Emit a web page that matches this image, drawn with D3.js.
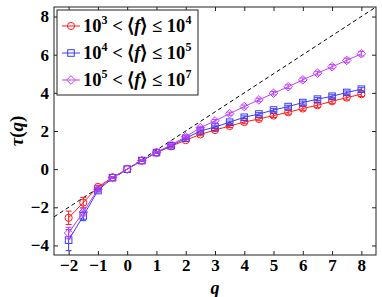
<!DOCTYPE html>
<html>
<head>
<meta charset="utf-8">
<script src="https://cdn.jsdelivr.net/npm/d3@7"></script>
<style>
  body { margin: 0; background: #fff; }
  text { font-family: "Liberation Serif", "Times New Roman", serif; font-weight: bold; }
</style>
</head>
<body>
<div id="chart"></div>
<script>
// q values and tau(q) for the three activity groups
const qVals = [-2, -1.5, -1, -0.5, 0, 0.5, 1, 1.5, 2, 2.5, 3, 3.5, 4, 4.5, 5, 5.5, 6, 6.5, 7, 7.5, 8];
const tauLow = [-2.55, -1.75, -0.93, -0.43, 0, 0.44, 0.86, 1.2, 1.52, 1.82, 2.05, 2.26, 2.47, 2.63, 2.81, 2.98, 3.18, 3.35, 3.56, 3.75, 3.93];
const tauMid = [-3.72, -2.45, -1.12, -0.45, 0, 0.45, 0.87, 1.23, 1.62, 2.0, 2.21, 2.46, 2.72, 2.89, 3.1, 3.28, 3.49, 3.67, 3.82, 4.02, 4.19];
const tauHigh = [-3.35, -2.25, -1.05, -0.44, 0, 0.45, 0.88, 1.28, 1.7, 2.18, 2.53, 2.91, 3.28, 3.63, 3.98, 4.32, 4.68, 5.03, 5.37, 5.7, 6.05];
const errLow = [0.35, 0.27, 0.08, 0.04, 0, 0.03, 0.04, 0.05, 0.06, 0.07, 0.08, 0.08, 0.09, 0.09, 0.1, 0.1, 0.1, 0.11, 0.11, 0.12, 0.12];
const errMid = [0.55, 0.25, 0.07, 0.04, 0, 0.03, 0.04, 0.05, 0.05, 0.06, 0.06, 0.06, 0.07, 0.07, 0.07, 0.07, 0.08, 0.08, 0.08, 0.08, 0.08];
const errHigh = [0.3, 0.2, 0.07, 0.04, 0, 0.03, 0.04, 0.05, 0.06, 0.07, 0.07, 0.08, 0.08, 0.09, 0.09, 0.1, 0.1, 0.1, 0.11, 0.12, 0.12];
const xTicks = [-2, -1, 0, 1, 2, 3, 4, 5, 6, 7, 8];
const yTicks = [-4, -2, 0, 2, 4, 6, 8];

const width = 382, height = 297;
const margin = {left: 54, right: 6, top: 7, bottom: 42};

const svg = d3.select("#chart").append("svg")
    .attr("width", width)
    .attr("height", height);

const x = d3.scaleLinear().domain([-2.5, 8.5]).range([margin.left, width - margin.right]);
const y = d3.scaleLinear().domain([-4.5, 8.5]).range([height - margin.bottom, margin.top]);

const series = [
    {tau: tauLow, err: errLow, color: "#ff1c1c", shape: "circle", lo: "3", hi: "4"},
    {tau: tauMid, err: errMid, color: "#3c3cf5", shape: "square", lo: "4", hi: "5"},
    {tau: tauHigh, err: errHigh, color: "#c43cff", shape: "diamond", lo: "5", hi: "7"}
];

// clip for the plot area
svg.append("clipPath").attr("id", "clip")
    .append("rect")
    .attr("x", x.range()[0]).attr("y", y.range()[1])
    .attr("width", x.range()[1] - x.range()[0])
    .attr("height", y.range()[0] - y.range()[1]);

// dashed reference line tau = q
svg.append("line")
    .attr("clip-path", "url(#clip)")
    .attr("x1", x(-2.5)).attr("y1", y(-2.5))
    .attr("x2", x(8.5)).attr("y2", y(8.5))
    .attr("stroke", "#000")
    .attr("stroke-width", 1)
    .attr("stroke-dasharray", "4,3");

function drawMarker(g, shape, cx, cy, color) {
    if (shape == "circle") {
        g.append("circle").attr("cx", cx).attr("cy", cy).attr("r", 3.6)
            .attr("fill", "none").attr("stroke", color).attr("stroke-width", 1);
    } else if (shape == "square") {
        g.append("rect").attr("x", cx - 3.3).attr("y", cy - 3.3).attr("width", 6.6).attr("height", 6.6)
            .attr("fill", "none").attr("stroke", color).attr("stroke-width", 1);
    } else {
        g.append("path").attr("d", `M${cx},${cy - 4.3}L${cx + 4.3},${cy}L${cx},${cy + 4.3}L${cx - 4.3},${cy}Z`)
            .attr("fill", "none").attr("stroke", color).attr("stroke-width", 1);
    }
}

const line = d3.line().x(d => x(d[0])).y(d => y(d[1]));

series.forEach(function(s) {
    const g = svg.append("g");
    const pts = qVals.map((q, i) => [q, s.tau[i], s.err[i]]);
    g.append("path")
        .datum(pts)
        .attr("d", line)
        .attr("fill", "none")
        .attr("stroke", s.color)
        .attr("stroke-width", 1);
    // error bars
    pts.forEach(function(p) {
        if (p[2] <= 0) return;
        const cx = x(p[0]);
        g.append("line").attr("x1", cx).attr("x2", cx)
            .attr("y1", y(p[1] - p[2])).attr("y2", y(p[1] + p[2]))
            .attr("stroke", s.color).attr("stroke-width", 1);
        [p[1] - p[2], p[1] + p[2]].forEach(function(v) {
            g.append("line").attr("x1", cx - 3).attr("x2", cx + 3)
                .attr("y1", y(v)).attr("y2", y(v))
                .attr("stroke", s.color).attr("stroke-width", 1);
        });
    });
    pts.forEach(p => drawMarker(g, s.shape, x(p[0]), y(p[1]), s.color));
});

// axes box with inward ticks
const axisColor = "#222";
svg.append("rect")
    .attr("x", x.range()[0]).attr("y", y.range()[1])
    .attr("width", x.range()[1] - x.range()[0])
    .attr("height", y.range()[0] - y.range()[1])
    .attr("fill", "none").attr("stroke", axisColor).attr("stroke-width", 1);

const tickLen = 4;
svg.append("g").attr("transform", `translate(0,${y.range()[0]})`)
    .call(d3.axisBottom(x).tickValues(xTicks).tickSize(-tickLen).tickPadding(4)
        .tickFormat(d => d < 0 ? "\u2212" + Math.abs(d) : d))
    .call(g => g.select(".domain").remove())
    .call(g => g.selectAll("line").attr("stroke", axisColor))
    .call(g => g.selectAll("text").attr("font-size", 17).attr("font-family", "Liberation Serif").attr("font-weight", "bold").attr("fill", "#000"));
svg.append("g").attr("transform", `translate(0,${y.range()[1]})`)
    .call(d3.axisTop(x).tickValues(xTicks).tickSize(-tickLen).tickFormat(""))
    .call(g => g.select(".domain").remove())
    .call(g => g.selectAll("line").attr("stroke", axisColor));
svg.append("g").attr("transform", `translate(${x.range()[0]},0)`)
    .call(d3.axisLeft(y).tickValues(yTicks).tickSize(-tickLen).tickPadding(5)
        .tickFormat(d => d < 0 ? "\u2212" + Math.abs(d) : d))
    .call(g => g.select(".domain").remove())
    .call(g => g.selectAll("line").attr("stroke", axisColor))
    .call(g => g.selectAll("text").attr("font-size", 17).attr("font-family", "Liberation Serif").attr("font-weight", "bold").attr("fill", "#000"));
svg.append("g").attr("transform", `translate(${x.range()[1]},0)`)
    .call(d3.axisRight(y).tickValues(yTicks).tickSize(-tickLen).tickFormat(""))
    .call(g => g.select(".domain").remove())
    .call(g => g.selectAll("line").attr("stroke", axisColor));

// axis labels
svg.append("text")
    .attr("x", (x.range()[0] + x.range()[1]) / 2)
    .attr("y", 294)
    .attr("text-anchor", "middle")
    .attr("font-size", 18)
    .attr("font-style", "italic")
    .text("q");
const yl = svg.append("text")
    .attr("transform", `translate(23,${(y.range()[0] + y.range()[1]) / 2}) rotate(-90)`)
    .attr("text-anchor", "middle")
    .attr("font-size", 19);
yl.append("tspan").attr("font-style", "italic").text("\u03c4");
yl.append("tspan").text("(");
yl.append("tspan").attr("font-style", "italic").text("q");
yl.append("tspan").text(")");

// legend
const legend = svg.append("g");
legend.append("rect")
    .attr("x", 57).attr("y", 10).attr("width", 141).attr("height", 85)
    .attr("fill", "#fff").attr("stroke", axisColor).attr("stroke-width", 1);
series.forEach(function(s, i) {
    const ly = 26 + i * 27;
    legend.append("line").attr("x1", 62).attr("x2", 80).attr("y1", ly).attr("y2", ly)
        .attr("stroke", s.color).attr("stroke-width", 1);
    drawMarker(legend, s.shape, 71, ly, s.color);
    const t = legend.append("text").attr("x", 83).attr("y", ly + 6).attr("font-size", 18.5);
    t.append("tspan").text("10");
    t.append("tspan").attr("dy", -8).attr("font-size", 12).text(s.lo);
    t.append("tspan").attr("dy", 8).text(" < \u27e8");
    t.append("tspan").attr("font-style", "italic").text("f");
    t.append("tspan").text("\u27e9 \u2264 10");
    t.append("tspan").attr("dy", -8).attr("font-size", 12).text(s.hi);
});
</script>
</body>
</html>
